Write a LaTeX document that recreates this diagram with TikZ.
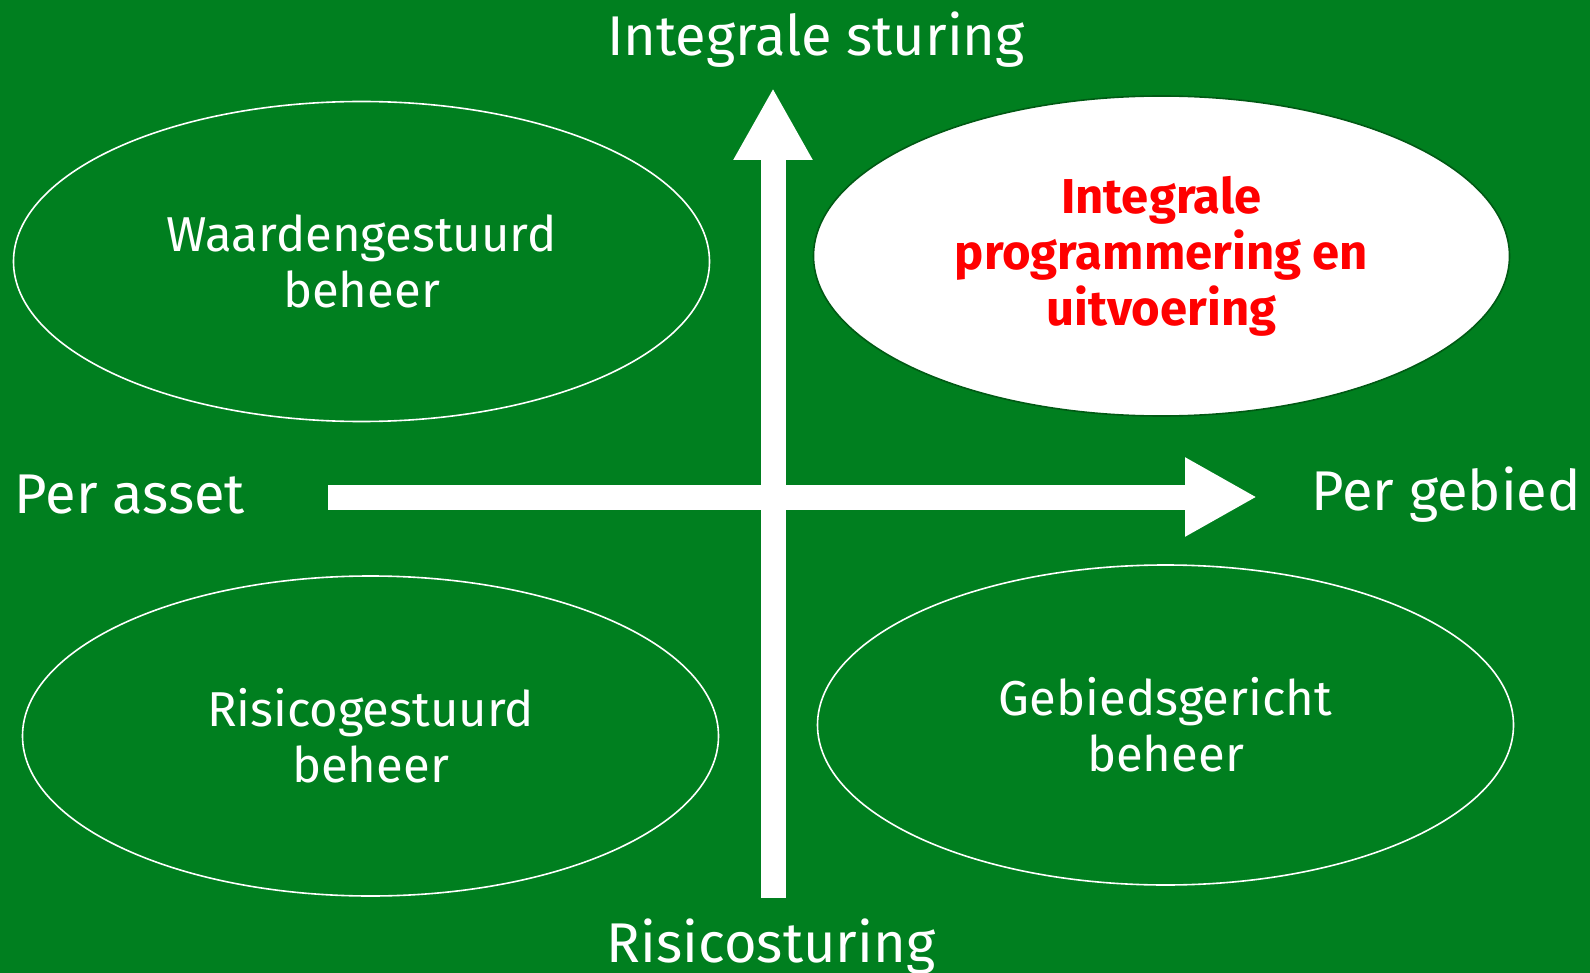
\documentclass[tikz,border=0pt]{standalone}
\usepackage{fontspec}
\setmainfont{Fira Sans}
\usetikzlibrary{shapes.geometric,arrows.meta}
\definecolor{bggreen}{RGB}{0,127,31}
\definecolor{rimgreen}{RGB}{0,90,20}
\definecolor{labelred}{RGB}{255,0,0}

\begin{document}
\begin{tikzpicture}[x=0.5pt,y=-0.5pt]
\tikzstyle{every node}+=[inner sep=0pt,text=white,align=center]
\tikzstyle{quadrant}=[ellipse,draw=white,line width=0.8pt,minimum width=348pt,minimum height=160pt,font=\fontsize{24.5}{28}\selectfont]
\tikzstyle{axislabel}=[font=\fontsize{28}{34}\selectfont]
\tikzstyle{axisarrow}=[white,line width=12.5pt,-{Triangle[width=37pt,length=36pt]}]
\fill [bggreen] (0,0) rectangle (1590,973);
\useasboundingbox (0,0) rectangle (1590,973);
% axes
\coordinate (vbot) at (773,898);
\coordinate (vtop) at (773,88);
\coordinate (hleft) at (328,497);
\coordinate (hright) at (1257,497);
\draw [axisarrow] (vbot) -- (vtop);
\draw [axisarrow] (hleft) -- (hright);
\draw (816,40) node [axislabel] (top) {Integrale sturing};
\draw (771,947) node [axislabel] (bottom) {Risicosturing};
\draw (130,495) node [axislabel] (left) {Per asset};
\draw (1446,495) node [axislabel] (right) {Per gebied};
% quadrants
\node [quadrant] (waarde) at (361.5,261.5) {Waardengestuurd\\beheer};
\node [quadrant,fill=white,draw=rimgreen,text=labelred,font=\fontsize{24.5}{28}\selectfont\bfseries] (integraal) at (1161.5,256) {Integrale\\programmering en\\uitvoering};
\node [quadrant] (risico) at (370.5,736) {Risicogestuurd\\beheer};
\node [quadrant] (gebied) at (1165.5,725) {Gebiedsgericht\\beheer};
\end{tikzpicture}
\end{document}
